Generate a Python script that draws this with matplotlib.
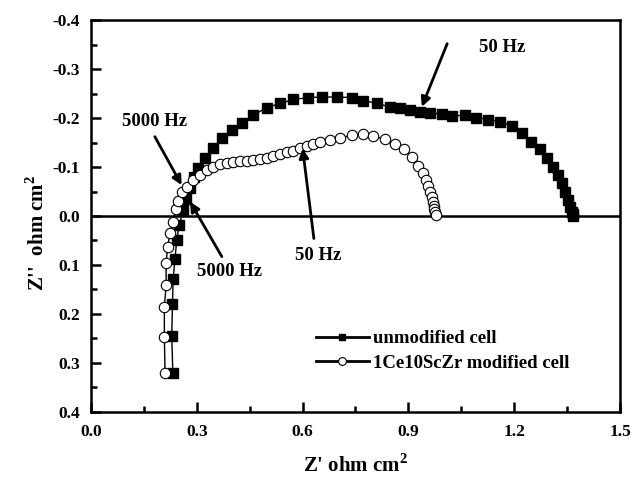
import matplotlib
matplotlib.use("Agg")
import matplotlib.pyplot as plt
from matplotlib.ticker import MultipleLocator

plt.rcParams["font.family"] = ["Liberation Serif", "DejaVu Serif"]
plt.rcParams["font.weight"] = "bold"
plt.rcParams["mathtext.fontset"] = "custom"
plt.rcParams["mathtext.rm"] = "Liberation Serif:bold"
plt.rcParams["mathtext.bf"] = "Liberation Serif:bold"

# unmodified cell (filled squares)
sq_x = [0.232, 0.229, 0.231, 0.233, 0.238, 0.243, 0.250, 0.262, 0.270, 0.280,
        0.292, 0.304, 0.323, 0.347, 0.371, 0.399, 0.427, 0.460, 0.498, 0.536,
        0.574, 0.616, 0.654, 0.697, 0.739, 0.772, 0.810, 0.848, 0.876, 0.904,
        0.933, 0.961, 0.994, 1.023, 1.060, 1.093, 1.127, 1.160, 1.193, 1.221,
        1.249, 1.273, 1.292, 1.311, 1.325, 1.335, 1.344, 1.353, 1.358, 1.363,
        1.367, 1.368]
sq_y = [0.320, 0.245, 0.180, 0.129, 0.088, 0.050, 0.018, -0.012, -0.035, -0.058,
        -0.080, -0.099, -0.118, -0.138, -0.159, -0.176, -0.190, -0.206, -0.221, -0.230,
        -0.238, -0.242, -0.243, -0.243, -0.242, -0.235, -0.231, -0.222, -0.220, -0.216,
        -0.213, -0.211, -0.208, -0.204, -0.206, -0.201, -0.197, -0.193, -0.184, -0.169,
        -0.152, -0.136, -0.118, -0.101, -0.084, -0.067, -0.050, -0.033, -0.019, -0.009,
        -0.004, 0.000]

# 1Ce10ScZr modified cell (open circles)
ci_x = [0.210, 0.208, 0.208, 0.213, 0.213, 0.217, 0.224, 0.233, 0.240, 0.248,
        0.257, 0.271, 0.290, 0.309, 0.328, 0.347, 0.366, 0.385, 0.404, 0.422,
        0.441, 0.460, 0.479, 0.498, 0.517, 0.536, 0.555, 0.574, 0.593, 0.612,
        0.630, 0.649, 0.678, 0.706, 0.739, 0.770, 0.800, 0.834, 0.862, 0.888,
        0.909, 0.928, 0.942, 0.950, 0.957, 0.961, 0.966, 0.969, 0.972, 0.973,
        0.975, 0.977]
ci_y = [0.321, 0.248, 0.186, 0.141, 0.097, 0.064, 0.035, 0.012, -0.015, -0.031,
        -0.048, -0.060, -0.073, -0.084, -0.094, -0.101, -0.106, -0.109, -0.111, -0.112,
        -0.113, -0.114, -0.116, -0.119, -0.122, -0.126, -0.130, -0.133, -0.138, -0.143,
        -0.147, -0.151, -0.155, -0.159, -0.165, -0.167, -0.163, -0.157, -0.148, -0.136,
        -0.120, -0.102, -0.087, -0.073, -0.061, -0.050, -0.039, -0.029, -0.021, -0.014,
        -0.008, -0.002]

# frequency markers: (label, text pos, arrow tail, arrow head)
notes = [
    ("50 Hz", (1.165, -0.345), (1.010, -0.352), (0.938, -0.223)),
    ("5000 Hz", (0.180, -0.192), (0.181, -0.162), (0.257, -0.063)),
    ("5000 Hz", (0.392, 0.114), (0.371, 0.083), (0.281, -0.029)),
    ("50 Hz", (0.643, 0.080), (0.632, 0.046), (0.600, -0.138)),
]

fig = plt.figure(figsize=(6.32, 4.8), dpi=100)
ax = fig.add_axes([0.144, 0.142, 0.837, 0.816])

ax.plot(sq_x, sq_y, "-s", color="black", lw=1.0, ms=6.5, mfc="black", mec="black",
        label="unmodified cell", zorder=3)
ax.plot(ci_x, ci_y, "-o", color="black", lw=1.0, ms=7.5, mfc="white", mec="black",
        mew=0.8, label="1Ce10ScZr modified cell", zorder=4)
ax.axhline(0, color="black", lw=1.8, zorder=2)

for label, tpos, tail, head in notes:
    ax.annotate("", xy=head, xytext=tail,
                arrowprops=dict(arrowstyle="-|>", color="black", lw=2.0,
                                mutation_scale=14, shrinkA=0, shrinkB=0), zorder=5)
    ax.text(tpos[0], tpos[1], label, ha="center", va="center", fontsize=13.5,
            fontweight="bold")

ax.set_xlim(0.0, 1.5)
ax.set_ylim(0.4, -0.4)
ax.xaxis.set_major_locator(MultipleLocator(0.3))
ax.xaxis.set_minor_locator(MultipleLocator(0.15))
ax.yaxis.set_major_locator(MultipleLocator(0.1))
ax.yaxis.set_minor_locator(MultipleLocator(0.05))
ax.set_xticklabels([f"{v:.1f}" for v in ax.get_xticks()])
ax.set_yticklabels([f"{v:.1f}" if abs(v) > 1e-9 else "0.0" for v in ax.get_yticks()])
ax.tick_params(which="both", direction="in", top=False, right=False, width=1.8,
               labelsize=12.5)
ax.tick_params(axis="x", pad=9)
ax.tick_params(axis="y", pad=8)
ax.tick_params(which="major", length=7)
ax.tick_params(which="minor", length=4)
for sp in ax.spines.values():
    sp.set_linewidth(1.8)

ax.set_xlabel(r"Z' ohm cm$^{2}$", fontsize=15, fontweight="bold", labelpad=10)
ax.set_ylabel(r"Z''  ohm cm$^{2}$", fontsize=15, fontweight="bold")
ax.yaxis.set_label_coords(-0.080, 0.457)

leg = ax.legend(loc="upper left", bbox_to_anchor=(0.408, 0.233), frameon=False,
                fontsize=13.5, handlelength=2.8, handletextpad=0.25, labelspacing=0.4,
                borderpad=0, markerscale=0.75)
for ln in leg.get_lines():
    ln.set_linewidth(2.0)

fig.savefig("out.png", dpi=100)
